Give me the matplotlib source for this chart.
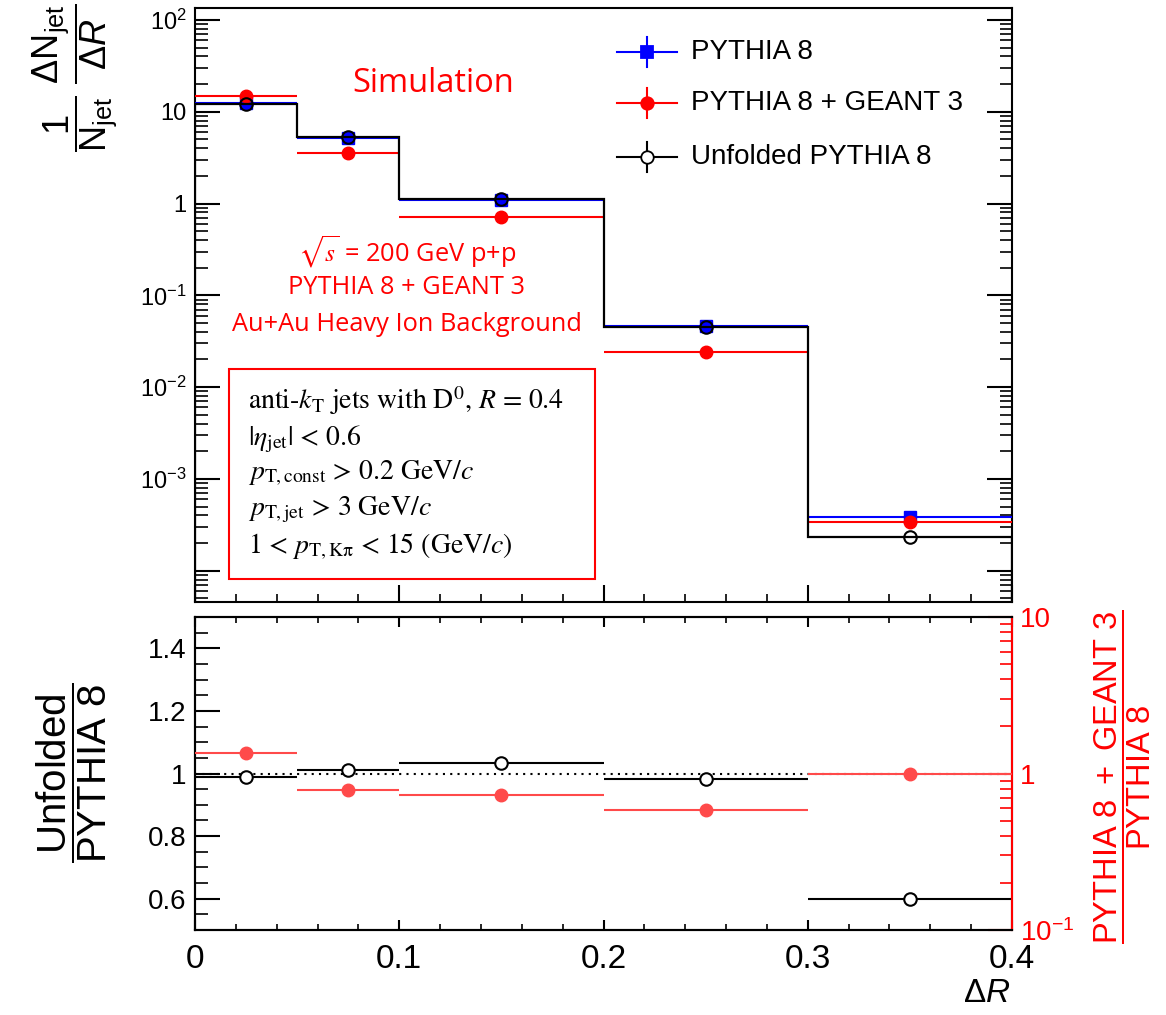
import numpy as np
import matplotlib
matplotlib.use('Agg')
import matplotlib.pyplot as plt
from matplotlib.lines import Line2D
from matplotlib.patches import Rectangle
from matplotlib.ticker import FixedLocator, NullFormatter, MultipleLocator, LogLocator

# ---------------- data ----------------
bin_edges = [0.0, 0.05, 0.1, 0.2, 0.3, 0.4]
pythia8 = [12.4, 5.2, 1.1, 0.046, 3.8e-4]
pythia8_geant3 = [14.8, 3.57, 0.71, 0.024, 3.4e-4]
unfolded = [12.2, 5.25, 1.13, 0.045, 2.3e-4]
ratio_unfolded = [0.988, 1.012, 1.033, 0.982, 0.60]
ratio_unfolded_err = [0.003, 0.003, 0.003, 0.004, 0.018]
ratio_geant = [1.36, 0.79, 0.73, 0.585, 1.0]

top_ytick_vals = [1e-4, 1e-3, 1e-2, 1e-1, 1, 10, 100]
top_ytick_labels = ['', r'$10^{-3}$', r'$10^{-2}$', r'$10^{-1}$', '1', '10', r'$10^{2}$']
bot_ytick_vals = [0.6, 0.8, 1.0, 1.2, 1.4]
bot_ytick_labels = ['0.6', '0.8', '1', '1.2', '1.4']
right_ytick_vals = [0.1, 1, 10]
right_ytick_labels = [r'$10^{-1}$', '1', '10']
xtick_vals = [0, 0.1, 0.2, 0.3, 0.4]
xtick_labels = ['0', '0.1', '0.2', '0.3', '0.4']

legend_labels = ['PYTHIA 8', 'PYTHIA 8 + GEANT 3', 'Unfolded PYTHIA 8']
info_lines = [
    r'anti-$k_{\mathrm{T}}$ jets with D$^{0}$, $R$ = 0.4',
    r'$|\eta_{\mathrm{jet}}|$ < 0.6',
    r'$p_{\mathrm{T,const}}$ > 0.2 GeV/$c$',
    r'$p_{\mathrm{T,jet}}$ > 3 GeV/$c$',
    r'1 < $p_{\mathrm{T,K\pi}}$ < 15 (GeV/$c$)',
]
sim_lines = [r'$\sqrt{s}$ = 200 GeV p+p', 'PYTHIA 8 + GEANT 3', 'Au+Au Heavy Ion Background']

# ---------------- style ----------------
plt.rcParams['font.family'] = ['Liberation Sans', 'DejaVu Sans']
plt.rcParams['mathtext.fontset'] = 'custom'
plt.rcParams['mathtext.rm'] = 'Liberation Sans'
plt.rcParams['mathtext.it'] = 'Liberation Sans:italic'
plt.rcParams['mathtext.bf'] = 'Liberation Sans:bold'
plt.rcParams['mathtext.sf'] = 'Liberation Sans'
plt.rcParams['axes.linewidth'] = 1.5

W, H = 1166, 1015
fig = plt.figure(figsize=(W / 100, H / 100), dpi=100)

def fx(px):
    return px / W

def fy(py):
    return 1 - py / H

edges = np.array(bin_edges)
centers = 0.5 * (edges[:-1] + edges[1:])
halfw = 0.5 * (edges[1:] - edges[:-1])

RED = '#ff0000'
LRED = '#ff4a4a'
BLUE = '#0000ff'

# ---------------- top panel ----------------
ax = fig.add_axes([fx(195), fy(602), fx(1012) - fx(195), fy(8) - fy(602)])
ax.set_yscale('log')
ax.set_xlim(0, 0.4)
ax.set_ylim(4.56e-5, 135)

ax.errorbar(centers, pythia8, xerr=halfw, fmt='s', color=BLUE, ms=9, lw=1.5, capsize=0, zorder=3)
ax.errorbar(centers, pythia8_geant3, xerr=halfw, fmt='o', color=RED, ms=9, lw=1.5, capsize=0, zorder=4)
ax.stairs(unfolded, edges, color='black', lw=1.6, zorder=5)
ax.plot(centers, unfolded, 'o', mfc='none', mec='black', ms=9, mew=1.5, zorder=6)

ax.yaxis.set_major_locator(FixedLocator(top_ytick_vals))
ax.set_yticklabels(top_ytick_labels)
ax.yaxis.set_minor_locator(LogLocator(base=10, subs=np.arange(2, 10), numticks=20))
ax.yaxis.set_minor_formatter(NullFormatter())
ax.xaxis.set_major_locator(FixedLocator(xtick_vals))
ax.xaxis.set_minor_locator(MultipleLocator(0.02))
ax.tick_params(axis='y', which='major', direction='in', length=18, width=1.5, left=True, right=True, labelsize=17, pad=6)
ax.tick_params(axis='y', which='minor', direction='in', length=9, width=1.2, left=True, right=True)
ax.tick_params(axis='x', which='major', direction='in', length=12, width=1.5, bottom=True, top=False, labelbottom=False)
ax.tick_params(axis='x', which='minor', direction='in', length=6, width=1.2, bottom=True, top=False)

# legend (drawn manually)
leg_rows = [52, 103, 157]
leg_styles = [dict(marker='s', color=BLUE, mfc=BLUE, mec=BLUE),
              dict(marker='o', color=RED, mfc=RED, mec=RED),
              dict(marker='o', color='black', mfc='white', mec='black')]
for yrow, lab, st in zip(leg_rows, legend_labels, leg_styles):
    fig.add_artist(Line2D([fx(617), fx(677)], [fy(yrow), fy(yrow)], color=st['color'], lw=1.5, transform=fig.transFigure))
    fig.add_artist(Line2D([fx(647), fx(647)], [fy(yrow - 15), fy(yrow + 15)], color=st['color'], lw=1.5, transform=fig.transFigure))
    fig.add_artist(Line2D([fx(647)], [fy(yrow)], marker=st['marker'], mfc=st['mfc'], mec=st['mec'], ms=9, mew=1.3, ls='none', transform=fig.transFigure))
    fig.text(fx(691), fy(yrow), lab, ha='left', va='center', fontsize=20, color='black')

# red simulation text
fig.text(fx(433), fy(84), 'Simulation', color=RED, fontsize=23.5, family=['Open Sans', 'DejaVu Sans'], ha='center', va='center')
for yrow, s in zip([252, 288, 325], sim_lines):
    fig.text(fx(407), fy(yrow), s, color=RED, fontsize=18.3, family=['Open Sans', 'DejaVu Sans'], ha='center', va='center', math_fontfamily='stix')

# info box
fig.add_artist(Rectangle((fx(229), fy(579)), fx(595) - fx(229), fy(369) - fy(579), fill=False, edgecolor=RED, lw=1.5, transform=fig.transFigure))
for yrow, s in zip([401, 439, 473, 510, 547], info_lines):
    fig.text(fx(248), fy(yrow), s, ha='left', va='center', fontsize=20, family=['STIXGeneral', 'DejaVu Serif'], math_fontfamily='stix')

# top y label
fig.text(fx(75), fy(78), r'$\dfrac{1}{\mathrm{N_{jet}}}\ \dfrac{\Delta \mathrm{N_{jet}}}{\Delta R}$', rotation=90, ha='center', va='center', fontsize=26)

# ---------------- bottom panel ----------------
bx = fig.add_axes([fx(195), fy(930), fx(1012) - fx(195), fy(617) - fy(930)])
bx.set_xlim(0, 0.4)
bx.set_ylim(0.5, 1.5)
bx.axhline(1.0, color='black', ls=(0, (1, 2.5)), lw=1.5, zorder=1)
bx.errorbar(centers, ratio_unfolded, xerr=halfw, yerr=ratio_unfolded_err, fmt='o', color='black', mfc='white', mec='black', ms=9, mew=1.5, lw=1.5, capsize=0, zorder=4)
bx.yaxis.set_major_locator(FixedLocator(bot_ytick_vals))
bx.set_yticklabels(bot_ytick_labels)
bx.yaxis.set_minor_locator(MultipleLocator(0.05))
bx.xaxis.set_major_locator(FixedLocator(xtick_vals))
bx.set_xticklabels(xtick_labels)
bx.xaxis.set_minor_locator(MultipleLocator(0.02))
bx.tick_params(axis='y', which='major', direction='in', length=18, width=1.5, left=True, right=False, labelsize=20, pad=6)
bx.tick_params(axis='y', which='minor', direction='in', length=9, width=1.2, left=True, right=False)
bx.tick_params(axis='x', which='major', direction='in', length=7, width=1.5, bottom=True, top=True, labelsize=24, pad=10)
bx.tick_params(axis='x', which='minor', direction='in', length=4, width=1.2, bottom=True, top=True)

tx = bx.twinx()
tx.set_yscale('log')
tx.set_ylim(0.1, 10)
tx.errorbar(centers, ratio_geant, xerr=halfw, fmt='o', color=LRED, ms=9, lw=1.5, capsize=0, zorder=3)
tx.yaxis.set_major_locator(FixedLocator(right_ytick_vals))
tx.set_yticklabels(right_ytick_labels)
tx.yaxis.set_minor_locator(LogLocator(base=10, subs=np.arange(2, 10), numticks=20))
tx.yaxis.set_minor_formatter(NullFormatter())
tx.spines['right'].set_color(RED)
tx.tick_params(axis='y', which='major', direction='in', length=17, width=1.5, colors=RED, labelsize=20, pad=6)
tx.tick_params(axis='y', which='minor', direction='in', length=9, width=1.2, colors=RED)

fig.text(fx(72), fy(773), r'$\dfrac{\mathrm{Unfolded}}{\mathrm{PYTHIA\ 8}}$', rotation=90, ha='center', va='center', fontsize=29)
fig.text(fx(1123), fy(777), r'$\dfrac{\mathrm{PYTHIA\ 8\ +\ GEANT\ 3}}{\mathrm{PYTHIA\ 8}}$', rotation=90, ha='center', va='center', fontsize=23.5, color=RED)
fig.text(fx(1010), fy(994), r'$\Delta R$', ha='right', va='center', fontsize=24)

fig.savefig('out.png', dpi=100)
